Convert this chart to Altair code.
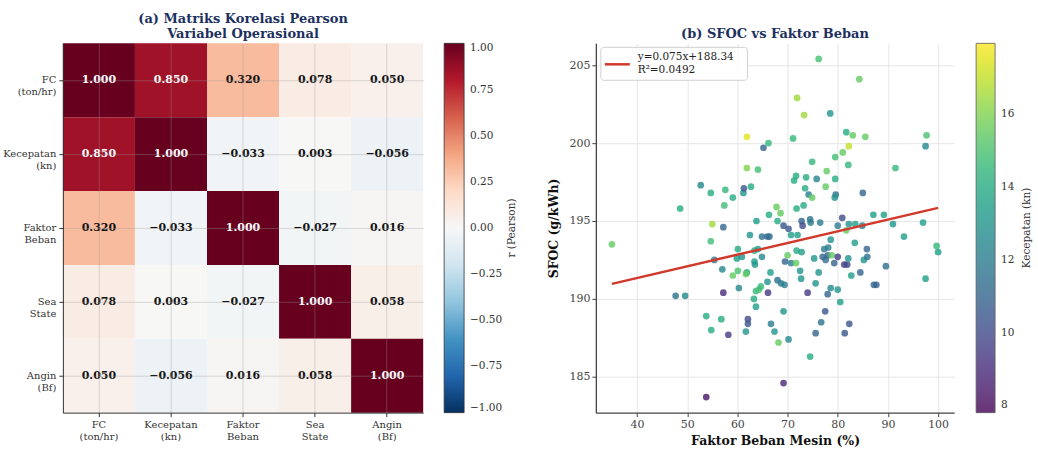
import altair as alt
import pandas as pd

# ---------------- data ----------------
VARS = ["FC|(ton/hr)", "Kecepatan|(kn)", "Faktor|Beban", "Sea|State", "Angin|(Bf)"]
CORR = [
    [1.000, 0.850, 0.320, 0.078, 0.050],
    [0.850, 1.000, -0.033, 0.003, -0.056],
    [0.320, -0.033, 1.000, -0.027, 0.016],
    [0.078, 0.003, -0.027, 1.000, 0.058],
    [0.050, -0.056, 0.016, 0.058, 1.000],
]
CBAR_TICKS = [-1.0, -0.75, -0.5, -0.25, 0.0, 0.25, 0.5, 0.75, 1.0]
RDBU_STOPS = [-1.0, -0.8, -0.6, -0.4, -0.2, 0.0, 0.2, 0.4, 0.6, 0.8, 1.0]
RDBU_COLORS = ["#053061", "#2166ac", "#4393c3", "#92c5de", "#d1e5f0", "#f7f7f7",
               "#fddbc7", "#f4a582", "#d6604d", "#b2182b", "#67001f"]

LOAD = [35.0, 47.7, 49.6, 48.6, 52.7, 53.8, 53.8, 54.7, 54.7, 54.8, 55.0, 55.4, 56.8, 57.0, 57.2,
        57.2, 57.6, 57.4, 58.2, 59.1, 59.1, 60.1, 60.1, 59.9, 60.9, 60.3, 61.2, 61.3, 61.9, 61.9,
        61.9, 61.7, 62.1, 62.1, 61.7, 62.5, 62.7, 63.4, 64.1, 63.4, 63.5, 63.8, 64.1, 63.3, 63.7,
        63.7, 64.3, 64.7, 64.9, 64.9, 65.2, 66.2, 66.0, 66.4, 66.3, 66.0, 66.6, 66.1, 66.7, 67.4,
        67.8, 68.6, 68.0, 68.0, 68.7, 69.4, 68.2, 69.2, 70.2, 69.2, 69.2, 70.2, 69.5, 70.0, 70.7,
        71.7, 70.7, 71.1, 71.9, 71.3, 71.7, 71.8, 71.8, 72.8, 72.0, 72.5, 72.7, 73.2, 73.3, 73.5,
        73.7, 74.2, 74.9, 74.9, 72.8, 73.0, 74.5, 74.6, 74.0, 74.5, 75.3, 75.6, 76.2, 75.6, 75.8,
        76.2, 76.5, 76.7, 77.0, 77.3, 77.5, 77.6, 77.6, 77.8, 78.0, 78.0, 78.1, 78.5, 78.6, 78.6,
        78.8, 79.3, 79.5, 79.5, 79.6, 79.4, 80.0, 80.0, 80.0, 80.5, 80.9, 81.0, 81.3, 81.4, 81.7,
        81.7, 81.9, 82.1, 82.2, 82.1, 82.2, 82.3, 82.7, 83.0, 83.4, 83.5, 84.3, 84.5, 85.0, 84.9,
        85.2, 85.5, 85.8, 85.9, 87.1, 87.2, 87.7, 89.2, 89.6, 91.0, 91.5, 93.2, 97.0, 97.5, 97.7,
        97.5, 99.7, 100.0]
SFOC = [193.5, 190.2, 190.2, 195.8, 197.3, 183.7, 188.9, 196.8, 193.7, 188.0, 194.8, 192.5, 188.7, 191.9, 190.4,
        194.6, 197.0, 196.0, 187.7, 196.5, 191.5, 191.8, 193.2, 192.6, 192.7, 190.7, 196.8, 197.1, 200.4, 198.4,
        191.7, 191.6, 188.7, 188.4, 187.9, 194.1, 197.2, 193.1, 193.2, 192.4, 192.2, 195.0, 198.3, 190.0, 189.5,
        190.5, 190.6, 190.8, 192.7, 194.0, 199.7, 200.0, 194.0, 194.0, 195.4, 191.1, 191.7, 190.4, 188.4, 187.9,
        195.9, 195.5, 195.0, 191.2, 191.0, 190.9, 187.2, 189.2, 187.4, 184.6, 194.7, 194.5, 192.4, 192.8, 192.3,
        192.3, 194.1, 200.3, 202.9, 197.6, 197.9, 195.8, 193.1, 193.0, 194.1, 191.8, 191.3, 196.0, 201.8, 197.1,
        197.8, 196.7, 196.5, 198.8, 195.0, 194.7, 195.1, 194.9, 190.4, 186.3, 192.6, 191.0, 191.7, 187.8, 197.7,
        205.4, 194.9, 188.5, 192.7, 193.2, 189.2, 192.5, 197.2, 198.2, 192.8, 190.3, 193.3, 201.9, 193.8, 190.7,
        192.8, 192.3, 199.1, 197.7, 196.7, 196.5, 194.7, 192.7, 190.6, 189.8, 195.2, 199.4, 192.2, 187.8, 200.7,
        194.4, 192.2, 192.6, 199.8, 198.6, 194.8, 188.4, 191.5, 200.5, 193.6, 194.8, 204.1, 191.7, 196.8, 194.7,
        192.5, 200.4, 193.2, 192.7, 195.4, 190.9, 190.9, 195.4, 192.1, 194.8, 198.4, 194.0, 194.9, 191.3, 200.5,
        199.8, 193.4, 193.0]
SPEED = [15.5, 11.5, 12.5, 14.0, 12.5, 8.3, 14.0, 14.0, 14.8, 14.0, 16.5, 12.0, 14.0, 12.5, 9.0,
         11.0, 14.5, 14.8, 9.5, 14.0, 15.5, 15.0, 14.0, 13.5, 13.0, 12.5, 13.0, 10.5, 17.5, 16.0,
         14.0, 15.5, 10.0, 10.5, 13.0, 13.0, 14.0, 14.0, 13.5, 13.5, 13.0, 13.5, 14.8, 14.0, 13.5,
         14.5, 15.0, 14.5, 12.5, 11.5, 11.0, 14.5, 11.0, 11.5, 14.0, 13.0, 13.5, 9.5, 12.0, 13.0,
         15.5, 15.5, 14.0, 11.5, 12.0, 12.0, 15.5, 13.0, 12.5, 8.8, 10.5, 10.5, 11.0, 15.5, 12.0,
         15.5, 13.5, 14.5, 16.5, 14.0, 14.0, 14.0, 14.0, 13.5, 13.5, 13.0, 13.0, 14.0, 16.5, 14.0,
         14.0, 12.0, 15.5, 14.5, 11.0, 10.0, 11.5, 12.0, 9.5, 14.0, 13.0, 13.0, 13.0, 11.0, 12.3,
         15.0, 12.0, 11.5, 11.0, 12.0, 10.5, 11.5, 15.5, 15.5, 11.0, 11.0, 12.0, 13.0, 13.0, 12.5,
         15.5, 11.0, 14.8, 14.0, 11.5, 13.0, 12.0, 9.5, 13.0, 13.5, 10.0, 15.5, 9.5, 10.5, 14.0,
         15.5, 10.0, 13.0, 17.0, 14.5, 13.0, 10.5, 13.5, 15.5, 13.5, 13.5, 15.5, 11.0, 11.0, 12.0,
         13.0, 15.5, 11.0, 11.5, 13.5, 11.0, 11.0, 13.5, 11.5, 13.0, 14.5, 13.5, 13.5, 13.5, 15.0,
         12.5, 14.5, 13.5]
SPEED_TICKS = [8, 10, 12, 14, 16]
X_TICKS = [40, 50, 60, 70, 80, 90, 100]
Y_TICKS = [185, 190, 195, 200, 205]
SLOPE = 0.075
INTERCEPT = 188.34
R2 = 0.0492

FONT = "DejaVu Serif"
TITLE_COLOR = "#1c3160"
HM_W, HM_H = 361, 370
SC_W, SC_H = 359, 370

# ---------------- heatmap ----------------
rows = []
for i, rv in enumerate(VARS):
    for j, cv in enumerate(VARS):
        rows.append({"row": rv, "col": cv, "r": CORR[i][j]})
hm_df = pd.DataFrame(rows)

hm_axis = dict(labelExpr="split(datum.label, '|')", title=None, grid=True, bandPosition=0.5,
               gridColor="#9a9a9a", gridOpacity=0.35, gridWidth=1, zindex=1,
               labelFont=FONT, labelFontSize=10, labelColor="#333333",
               domainColor="#333333", tickColor="#333333", tickSize=4, labelPadding=3)

hx = alt.X("col:N", sort=VARS, axis=alt.Axis(labelAngle=0, labelAlign="center", labelBaseline="top", **hm_axis),
           scale=alt.Scale(paddingInner=0, paddingOuter=0))
hy = alt.Y("row:N", sort=VARS, axis=alt.Axis(labelAlign="right", labelBaseline="middle", **hm_axis),
           scale=alt.Scale(paddingInner=0, paddingOuter=0))

legend_common = dict(gridAlign="each", gradientLength=370, gradientStrokeColor="#333333",
                     gradientStrokeWidth=0.8, labelFont=FONT, labelFontSize=10.5,
                     labelColor="#333333", labelOffset=6, orient="none", legendY=0, title=None)

hm_base = alt.Chart(hm_df)
hm_rect = hm_base.mark_rect().encode(
    x=hx, y=hy,
    color=alt.Color("r:Q",
                    scale=alt.Scale(domain=RDBU_STOPS, range=RDBU_COLORS, interpolate="rgb"),
                    legend=alt.Legend(values=CBAR_TICKS, format=".2f", gradientThickness=20,
                                      legendX=HM_W + 21, **legend_common)),
)
hm_text = hm_base.mark_text(font=FONT, fontWeight="bold", fontSize=11).encode(
    x=hx, y=hy,
    text=alt.Text("r:Q", format=".3f"),
    color=alt.condition("datum.r > 0.6", alt.value("white"), alt.value("#111111")),
)
one = pd.DataFrame({"a": [0]})
hm_ltitle = alt.Chart(one).mark_text(angle=270, align="center", baseline="middle", font=FONT,
                                     fontSize=10.5, color="#333333").encode(
    x=alt.value(HM_W + 89), y=alt.value(HM_H / 2), text=alt.value("r (Pearson)"))

heat = alt.layer(hm_rect, hm_text, hm_ltitle).properties(
    width=HM_W, height=HM_H,
    title=alt.TitleParams(text=["(a) Matriks Korelasi Pearson", "Variabel Operasional"]),
)

# ---------------- scatter ----------------
sc_df = pd.DataFrame({"load": LOAD, "sfoc": SFOC, "speed": SPEED})
ax_common = dict(labelFont=FONT, labelFontSize=11, labelColor="#444444",
                 titleFont=FONT, titleFontSize=12.5, titleFontWeight="bold", titleColor="#111111",
                 gridColor="#e6e6e6", domainColor="#444444", domainWidth=1.3,
                 tickColor="#444444", tickSize=4)
sx = alt.X("load:Q", scale=alt.Scale(domain=[31.8, 103.2], nice=False, zero=False),
           axis=alt.Axis(values=X_TICKS, title="Faktor Beban Mesin (%)", titlePadding=5, **ax_common))
sy = alt.Y("sfoc:Q", scale=alt.Scale(domain=[182.7, 206.4], nice=False, zero=False),
           axis=alt.Axis(values=Y_TICKS, title="SFOC (g/kWh)", titlePadding=8, **ax_common))

pts = alt.Chart(sc_df).mark_circle(size=45, opacity=0.8).encode(
    x=sx, y=sy,
    color=alt.Color("speed:Q", scale=alt.Scale(scheme="viridis", domain=[7.8, 17.95]),
                    legend=alt.Legend(values=SPEED_TICKS, format="d", gradientThickness=19,
                                      legendX=SC_W + 22, **legend_common)),
)

xmin, xmax = min(LOAD), max(LOAD)
line_df = pd.DataFrame({"load": [xmin, xmax],
                        "sfoc": [SLOPE * xmin + INTERCEPT, SLOPE * xmax + INTERCEPT]})
fit = alt.Chart(line_df).mark_line(color="#d0392b", strokeWidth=2.5).encode(x="load:Q", y="sfoc:Q")

box = alt.Chart(one).mark_rect(fill="white", stroke="#cccccc", strokeWidth=1, cornerRadius=3, opacity=0.9).encode(
    x=alt.value(5), x2=alt.value(152), y=alt.value(4), y2=alt.value(37))
sample = alt.Chart(one).mark_rule(color="#d0392b", strokeWidth=2.5).encode(
    x=alt.value(9), x2=alt.value(34), y=alt.value(21))
t1 = alt.Chart(one).mark_text(align="left", baseline="middle", font=FONT, fontSize=10.5, color="#222222").encode(
    x=alt.value(42), y=alt.value(14), text=alt.value(f"y={SLOPE:.3f}x+{INTERCEPT:.2f}"))
t2 = alt.Chart(one).mark_text(align="left", baseline="middle", font=FONT, fontSize=10.5, color="#222222").encode(
    x=alt.value(42), y=alt.value(27), text=alt.value(f"R²={R2:.4f}"))
sc_ltitle = alt.Chart(one).mark_text(angle=270, align="center", baseline="middle", font=FONT,
                                     fontSize=10.5, color="#333333").encode(
    x=alt.value(SC_W + 73), y=alt.value(SC_H / 2), text=alt.value("Kecepatan (kn)"))

scatter = alt.layer(pts, fit, box, sample, t1, t2, sc_ltitle).properties(
    width=SC_W, height=SC_H,
    title=alt.TitleParams(text="(b) SFOC vs Faktor Beban"),
)

chart = alt.hconcat(heat, scatter, spacing=30).resolve_scale(color="independent").properties(
    padding={"left": 2, "top": 13, "right": 5, "bottom": 5}
).configure_view(stroke=None).configure_title(
    font=FONT, fontSize=13, fontWeight="bold", color=TITLE_COLOR, offset=2, anchor="middle"
).configure_axis(labelFont=FONT)

chart.save("out.html", embed_options={"renderer": "svg", "actions": False})
